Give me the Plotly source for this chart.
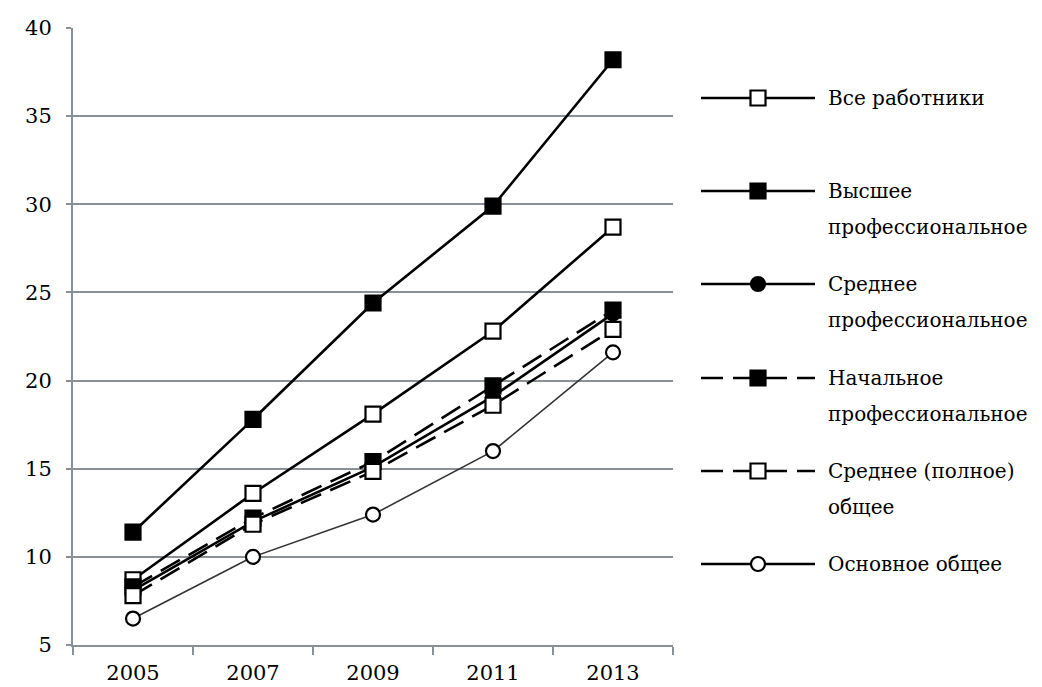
import plotly.graph_objects as go

years = ["2005", "2007", "2009", "2011", "2013"]
vse = [8.7, 13.6, 18.1, 22.8, 28.7]
vysshee = [11.4, 17.8, 24.4, 29.9, 38.2]
sred_prof = [8.1, 12.0, 15.1, 19.1, 23.8]
nach_prof = [8.3, 12.2, 15.4, 19.7, 24.0]
sred_poln = [7.8, 11.85, 14.85, 18.6, 22.9]
osnovnoe = [6.5, 10.0, 12.4, 16.0, 21.6]

names = [
    ["Все работники"],
    ["Высшее", "профессиональное"],
    ["Среднее", "профессиональное"],
    ["Начальное", "профессиональное"],
    ["Среднее (полное)", "общее"],
    ["Основное общее"],
]
series = [vse, vysshee, sred_prof, nach_prof, sred_poln, osnovnoe]

FONT = "DejaVu Serif"
FS = 21
LEG_FS = 20
GRID = "#8a9196"
DASH = "22px,10px"

styles = [
    dict(symbol="square", fill="white", dash="solid", lw=2.6, size=15, lc="black"),
    dict(symbol="square", fill="black", dash="solid", lw=2.6, size=15, lc="black"),
    dict(symbol="circle", fill="black", dash="solid", lw=2.6, size=14, lc="black"),
    dict(symbol="square", fill="black", dash=DASH, lw=2.6, size=15, lc="black"),
    dict(symbol="square", fill="white", dash=DASH, lw=2.6, size=15, lc="black"),
    dict(symbol="circle", fill="white", dash="solid", lw=1.6, size=14, lc="#333333"),
]

fig = go.Figure()

for vals, nm, st in zip(series, names, styles):
    fig.add_trace(go.Scatter(
        x=years, y=vals, mode="lines+markers", name=" ".join(nm),
        line=dict(color=st["lc"], width=st["lw"], dash=st["dash"]),
        marker=dict(symbol=st["symbol"], size=st["size"], color=st["fill"],
                    line=dict(color="black", width=2.2)),
        showlegend=False, xaxis="x", yaxis="y",
    ))

# Page offset: the browser body adds an 8px margin around the figure.
OFF = 8
PAGE_W, PAGE_H = 1042, 687
W, H = PAGE_W - OFF, PAGE_H - OFF

# Plot area in page pixels
P_LEFT, P_RIGHT, P_TOP, P_BOTTOM = 73, 673, 28, 645

ml = P_LEFT - OFF
mt = P_TOP - OFF
mb = H - (P_BOTTOM - OFF)
mr = 0
pw = W - ml - mr
split = (P_RIGHT - P_LEFT) / pw

# Custom legend drawn on a hidden axis pair scaled in page pixels
leg_y = [98, 191, 284, 378, 471, 564]
annotations = []
for yy, nm, st in zip(leg_y, names, styles):
    fig.add_trace(go.Scatter(
        x=[701, 815], y=[yy, yy], mode="lines",
        line=dict(color="black", width=2.6, dash=st["dash"]),
        showlegend=False, hoverinfo="skip", xaxis="x2", yaxis="y2",
    ))
    fig.add_trace(go.Scatter(
        x=[758], y=[yy], mode="markers",
        marker=dict(symbol=st["symbol"], size=st["size"], color=st["fill"],
                    line=dict(color="black", width=2.2)),
        showlegend=False, hoverinfo="skip", xaxis="x2", yaxis="y2",
    ))
    for i, line in enumerate(nm):
        annotations.append(dict(
            x=826, y=yy + 36 * i, xref="x2", yref="y2", text=line,
            showarrow=False, xanchor="left", yanchor="middle",
            font=dict(family=FONT, size=LEG_FS, color="black"),
        ))

fig.update_layout(
    width=W, height=H,
    margin=dict(l=ml, r=mr, t=mt, b=mb, autoexpand=False),
    paper_bgcolor="white", plot_bgcolor="white",
    font=dict(family=FONT, size=FS, color="black"),
    annotations=annotations,
    xaxis=dict(
        domain=[0, split], type="category", categoryorder="array",
        categoryarray=years, range=[-0.5, 4.5],
        showgrid=False, zeroline=False,
        showline=True, linecolor=GRID, linewidth=2,
        ticks="outside", tickson="boundaries", ticklen=8,
        tickcolor=GRID, tickwidth=2, ticklabelstandoff=8,
        tickfont=dict(family=FONT, size=FS, color="black"),
        anchor="y", automargin=False,
    ),
    yaxis=dict(
        range=[5, 40], dtick=5, tick0=5,
        showgrid=True, gridcolor=GRID, gridwidth=2,
        zeroline=False,
        showline=True, linecolor=GRID, linewidth=2,
        ticks="outside", ticklen=5, tickcolor=GRID, tickwidth=2,
        ticklabelstandoff=10,
        tickfont=dict(family=FONT, size=FS, color="black"),
        anchor="x", automargin=False,
    ),
    xaxis2=dict(domain=[split, 1], range=[P_RIGHT, PAGE_W], visible=False,
                anchor="y2", fixedrange=True),
    yaxis2=dict(domain=[0, 1], range=[P_BOTTOM, P_TOP], visible=False,
                anchor="x2", fixedrange=True),
)

fig.write_html("out.html")
